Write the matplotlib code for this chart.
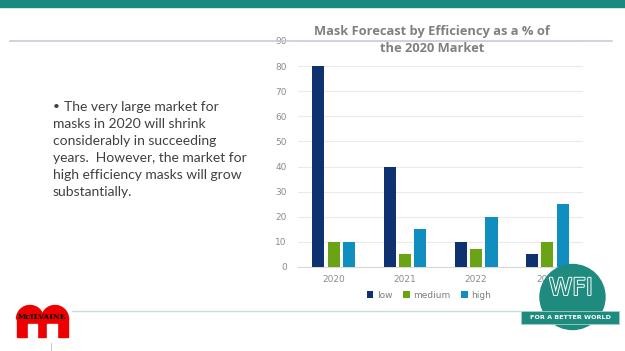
import numpy as np
import matplotlib.pyplot as plt
from matplotlib.patches import Rectangle, Circle, Wedge
import matplotlib.patheffects as pe

years = ['2020', '2021', '2022', '2023']
series = ['low', 'medium', 'high']
low = [80, 40, 10, 5]
medium = [10, 5, 7, 10]
high = [10, 15, 20, 25]
colors = ['#0e3270', '#6aa313', '#0f8ebf']
yticks = [0, 10, 20, 30, 40, 50, 60, 70, 80, 90]
bullet_lines = ['The very large market for', 'masks in 2020 will shrink',
                'considerably in succeeding', 'years.  However, the market for',
                'high efficiency masks will grow', 'substantially.']

W, H = 625, 351
fig = plt.figure(figsize=(W / 100, H / 100), dpi=100)
fig.patch.set_facecolor('white')

# chart
ax = fig.add_axes([298 / W, 1 - 267 / H, 285 / W, 226 / H])
ax.set_facecolor('none')
x = np.arange(len(years))
bw = 0.17
gap = 0.045
for i, (vals, c) in enumerate(zip([low, medium, high], colors)):
    ax.bar(x + (i - 1) * (bw + gap), vals, width=bw, color=c, zorder=3, label=series[i])
ax.set_xlim(-0.5, 3.5)
ax.set_ylim(0, 90)
ax.set_yticks(yticks)
ax.set_xticks(x)
ax.set_xticklabels(years)
ax.grid(axis='y', color='#eaeaea', linewidth=0.8, zorder=0)
for s in ['top', 'right', 'left']:
    ax.spines[s].set_visible(False)
ax.spines['bottom'].set_color('#d9d9d9')
ax.tick_params(axis='both', length=0, labelsize=6.5, labelcolor='#8c8c8c')
ax.tick_params(axis='y', pad=8)
ax.tick_params(axis='x', pad=6)
leg = ax.legend(loc='center', bbox_to_anchor=(0.46, -0.125), ncol=3, frameon=False,
                fontsize=6.5, handlelength=0.7, handleheight=0.7, handletextpad=0.4,
                columnspacing=1.2, borderaxespad=0)
for t in leg.get_texts():
    t.set_color('#7f7f7f')

# overlay for slide decorations
ov = fig.add_axes([0, 0, 1, 1], zorder=5)
ov.set_xlim(0, W)
ov.set_ylim(H, 0)
ov.axis('off')
ov.set_facecolor('none')

ov.add_patch(Rectangle((0, 0), W, 7, color='#1a8a80'))
ov.plot([10, 612], [41, 41], color='#c8ccd8', lw=1.2)
ov.plot([72, 521], [311, 311], color='#c8dedd', lw=1)
ov.plot([51, 51], [343, 351], color='#bbbbbb', lw=0.6)

ov.text(432, 32, 'Mask Forecast by Efficiency as a % of', ha='center', va='center',
        fontsize=9.3, fontweight='bold', color='#808080', family='Open Sans')
ov.text(432, 49, 'the 2020 Market', ha='center', va='center',
        fontsize=9.3, fontweight='bold', color='#808080', family='Open Sans')

# bullet text
ov.text(53, 107, '\u2022', ha='left', va='center', fontsize=8.5, color='#404040', family='Lato')
for k, line in enumerate(bullet_lines):
    x0 = 64 if k == 0 else 53
    ov.text(x0, 107 + k * 17, line, ha='left', va='center', fontsize=10,
            color='#404040', family='Lato')

# McIlvaine logo
red = '#ee0000'
ov.add_patch(Wedge((30, 319), 13.5, 180, 360, color=red))
ov.add_patch(Wedge((55, 319), 13.5, 180, 360, color=red))
ov.add_patch(Rectangle((17, 318), 51, 19, color=red))
ov.add_patch(Rectangle((28, 324), 9, 14, color='white'))
ov.add_patch(Rectangle((47, 324), 10, 14, color='white'))
ov.text(42, 317, 'McILVAINE', ha='center', va='center', fontsize=5.5,
        fontweight='bold', family='DejaVu Serif', color='black')

# WFI logo
teal = '#1f8a7e'
ov.add_patch(Circle((572.5, 297), 32.5, color=teal))
ov.add_patch(Rectangle((521, 311), 98, 13, facecolor=teal, edgecolor='#9fd0ca', lw=0.6))
ov.text(571, 288, 'WFI', ha='center', va='center', fontsize=17, color=teal,
        family='DejaVu Sans', path_effects=[pe.withStroke(linewidth=1.4, foreground='white')])
ov.text(570, 317.5, 'FOR A BETTER WORLD', ha='center', va='center', fontsize=4.6,
        fontweight='bold', color='white', family='DejaVu Sans')

fig.savefig('out.png', dpi=100)
